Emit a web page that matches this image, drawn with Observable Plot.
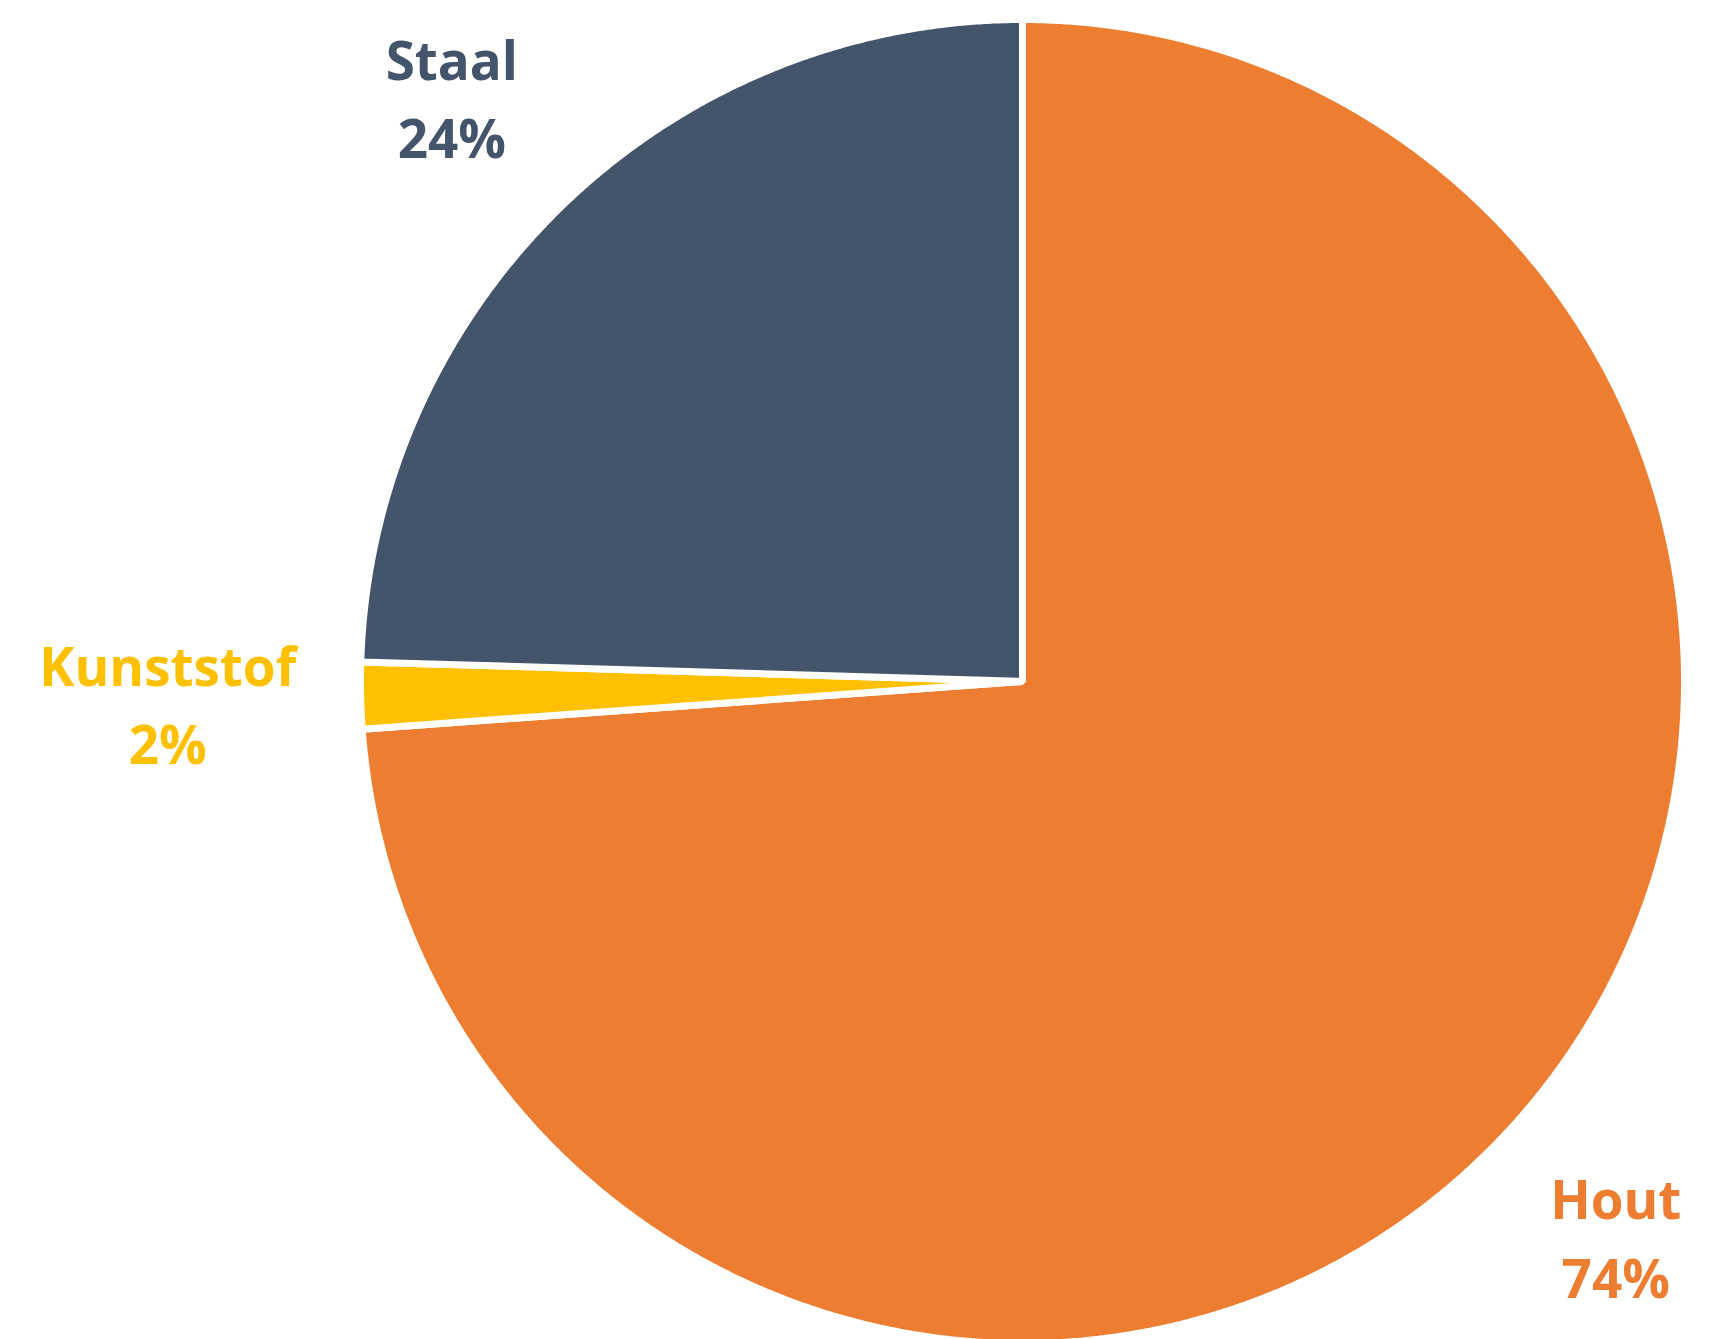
<!DOCTYPE html>
<html>
<head>
<meta charset="utf-8">
<script src="https://cdn.jsdelivr.net/npm/d3@7"></script>
<script src="https://cdn.jsdelivr.net/npm/@observablehq/plot@0.6"></script>
<style>
  html, body { margin: 0; padding: 0; background: #ffffff; }
  #chart svg { display: block; overflow: visible; }
</style>
</head>
<body>
<div id="chart"></div>
<script>
// Data (clockwise from 12 o'clock)
const categories = ["Hout", "Kunststof", "Staal"];
const shares = [73.85, 1.62, 24.53];
const percentLabels = ["74%", "2%", "24%"];
const colors = ["#ED7D31", "#FFC000", "#44546A"];

// Build slices via d3.pie (no sorting, clockwise from top)
const pie = d3.pie().sort(null).value(d => d.value)
  (categories.map((name, i) => ({name, value: shares[i], label: percentLabels[i]})));

// Polygon points for each slice (unit circle data space)
const pts = [];
for (const s of pie) {
  const n = Math.max(2, Math.ceil((s.endAngle - s.startAngle) / (Math.PI / 720)));
  pts.push({name: s.data.name, x: 0, y: 0});
  for (let k = 0; k <= n; k++) {
    const a = s.startAngle + (s.endAngle - s.startAngle) * k / n;
    pts.push({name: s.data.name, x: Math.sin(a), y: Math.cos(a)});
  }
}

// Label anchors at the mid-angle, pushed out by label length
const labels = pie.map(s => {
  const a = (s.startAngle + s.endAngle) / 2;
  const r = 1.17 + 0.0135 * s.data.name.length;
  return {name: s.data.name, text: `${s.data.name}\n${s.data.label}`, x: r * Math.sin(a), y: r * Math.cos(a)};
});

const chart = Plot.plot({
  width: 1716,
  height: 1339,
  margin: 0,
  x: {domain: [-1, 1], range: [360, 1684], axis: null},
  y: {domain: [-1, 1], range: [1343, 19], axis: null},
  color: {domain: categories, range: colors},
  style: {background: "#ffffff"},
  marks: [
    Plot.line(pts, {x: "x", y: "y", z: "name", fill: "name", stroke: "#ffffff", strokeWidth: 7, curve: "linear-closed", strokeLinejoin: "miter"}),
    Plot.text(labels, {x: "x", y: "y", text: "text", fill: "name", fontSize: 53, fontWeight: 700, fontFamily: "Open Sans", lineHeight: 1.48, textAnchor: "middle"})
  ]
});
document.getElementById("chart").appendChild(chart);
</script>
</body>
</html>
